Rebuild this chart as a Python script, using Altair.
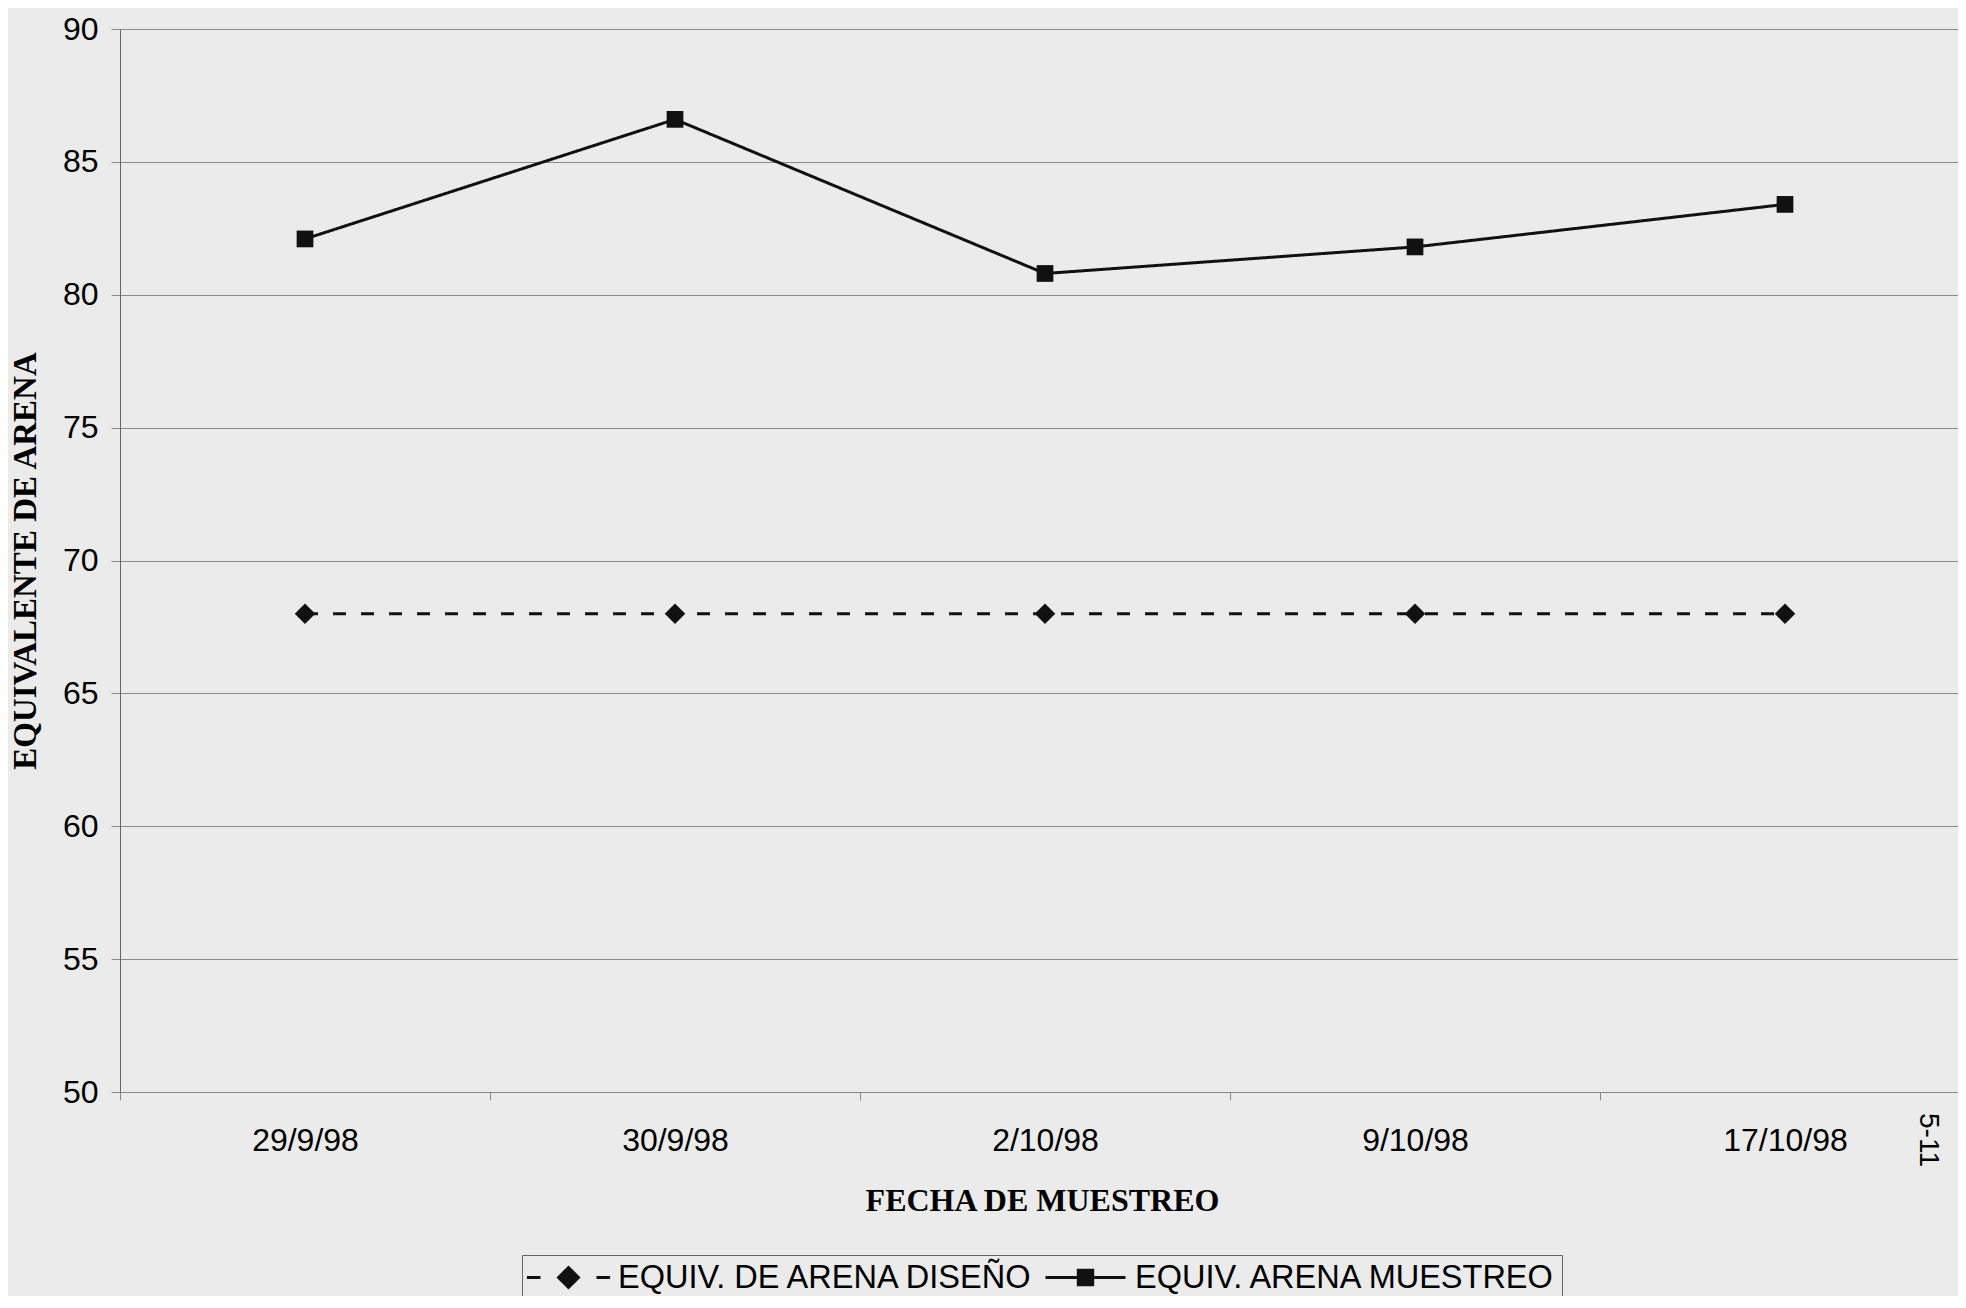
import altair as alt
import pandas as pd

fechas = ["29/9/98", "30/9/98", "2/10/98", "9/10/98", "17/10/98"]
diseno = [68, 68, 68, 68, 68]
muestreo = [82.1, 86.6, 80.8, 81.8, 83.4]
series = ["EQUIV. DE ARENA DISEÑO", "EQUIV. ARENA MUESTREO"]
y_ticks = [50, 55, 60, 65, 70, 75, 80, 85, 90]

rows = []
for f, v in zip(fechas, diseno):
    rows.append({"fecha": f, "serie": series[0], "valor": v})
for f, v in zip(fechas, muestreo):
    rows.append({"fecha": f, "serie": series[1], "valor": v})
df = pd.DataFrame(rows)

BG = "#ebebeb"
GRID = "#8a8a8a"
INK = "#111111"

x_enc = alt.X(
    "fecha:N",
    sort=fechas,
    scale=alt.Scale(type="band", paddingInner=0, paddingOuter=0, range=[0, 1850]),
    axis=alt.Axis(
        title="FECHA DE MUESTREO",
        titleFont="Liberation Serif",
        titleFontWeight="bold",
        titleFontSize=32,
        titleColor="black",
        titleBaseline="middle",
        titleX=922,
        titleY=108,
        labelFont="Liberation Sans",
        labelFontSize=32,
        labelColor="black",
        labelAngle=0,
        labelBaseline="middle",
        labelPadding=40,
        tickBand="extent",
        tickSize=8,
        tickColor=GRID,
        domainColor=GRID,
        grid=False,
    ),
)
y_enc = alt.Y(
    "valor:Q",
    scale=alt.Scale(domain=[50, 90], nice=False, zero=False),
    axis=alt.Axis(
        values=y_ticks,
        title="EQUIVALENTE DE ARENA",
        titleFont="Liberation Serif",
        titleFontWeight="bold",
        titleFontSize=33,
        titleColor="black",
        titleAngle=270,
        titleBaseline="middle",
        titleAlign="center",
        titleX=-95,
        titleY=531.5,
        labelFont="Liberation Sans",
        labelFontSize=32,
        labelColor="black",
        labelPadding=13,
        tickSize=9,
        tickColor=GRID,
        domainColor="#666666",
        grid=True,
        gridColor=GRID,
        gridWidth=1,
    ),
)

base = alt.Chart(df)

lines = base.mark_line(color=INK, strokeWidth=3).encode(
    x=x_enc,
    y=y_enc,
    strokeDash=alt.StrokeDash(
        "serie:N",
        scale=alt.Scale(domain=series, range=[[13, 15], [1, 0]]),
        legend=None,
    ),
)

points = base.mark_point(filled=True, color=INK, opacity=1).encode(
    x=x_enc,
    y=y_enc,
    shape=alt.Shape(
        "serie:N",
        scale=alt.Scale(domain=series, range=["diamond", "square"]),
        legend=None,
    ),
    size=alt.Size(
        "serie:N",
        scale=alt.Scale(domain=series, range=[420, 280]),
        legend=None,
    ),
)

path_diseno = "M-2.6,0L-1.75,0M-0.62,0L0,-0.62L0.62,0L0,0.62ZM1.75,0L2.6,0"
path_muestreo = "M-2.5,0L2.5,0M-0.45,-0.45L0.45,-0.45L0.45,0.45L-0.45,0.45Z"

legend_layer = (
    base.transform_filter("false")
    .mark_point(filled=True, fill=INK, stroke=INK, strokeWidth=3)
    .encode(
        x=x_enc,
        y=y_enc,
        shape=alt.Shape(
            "serie:N",
            scale=alt.Scale(domain=series, range=[path_diseno, path_muestreo]),
            legend=alt.Legend(
                title=None,
                orient="none",
                legendX=402,
                legendY=1226,
                direction="horizontal",
                labelFont="Liberation Sans",
                labelFontSize=32.5,
                labelColor="black",
                labelLimit=0,
                labelOffset=32,
                symbolOffset=24,
                symbolSize=1024,
                symbolStrokeWidth=3,
                symbolOpacity=1,
                columnPadding=5,
                padding=5,
                strokeColor="#666666",
                fillColor=BG,
            ),
        ),
    )
)

note = alt.Chart(pd.DataFrame({"t": ["5-11"]})).mark_text(
    font="Liberation Sans", fontSize=28, angle=90, color="black",
    align="center", baseline="middle",
).encode(
    x=alt.value(1808),
    y=alt.value(1111),
    text="t:N",
)

chart = (
    alt.layer(lines, points, legend_layer, note)
    .resolve_scale(shape="independent")
    .properties(
        width=1838,
        height=1063,
        background=BG,
        padding={"left": 112, "top": 21, "right": 0, "bottom": 204},
        autosize=alt.AutoSizeParams(type="none"),
    )
    .configure_view(stroke=None)
)

chart.save("out.html", embed_options={"renderer": "svg", "actions": False})
